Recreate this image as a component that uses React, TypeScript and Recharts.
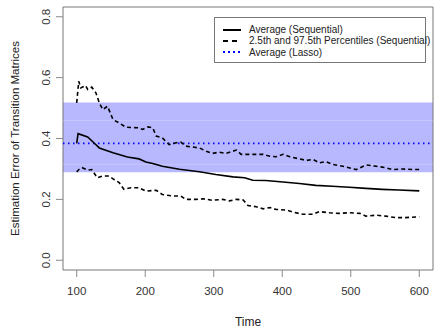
import { LineChart, Line, XAxis, YAxis, ReferenceArea, ReferenceLine } from "recharts";

// Average estimation error of the sequential method
const avgTime = [100, 102, 116, 125, 133, 153, 174, 191, 201, 211, 225, 250, 279, 303, 328, 345, 357, 376, 401, 425, 449, 473, 498, 522, 546, 570, 600];
const avgError = [0.384, 0.416, 0.405, 0.386, 0.369, 0.353, 0.339, 0.333, 0.323, 0.318, 0.309, 0.299, 0.291, 0.282, 0.274, 0.271, 0.263, 0.262, 0.257, 0.252, 0.246, 0.243, 0.24, 0.236, 0.233, 0.231, 0.228];

// 97.5th percentile
const upperTime = [100, 103, 106, 113, 116, 122, 128, 133, 138, 145, 153, 162, 172, 191, 196, 204, 211, 216, 225, 235, 245, 252, 259, 279, 289, 298, 308, 318, 333, 340, 357, 372, 382, 391, 401, 411, 425, 435, 445, 454, 464, 473, 488, 508, 522, 537, 551, 561, 575, 590, 600];
const upperError = [0.517, 0.588, 0.566, 0.574, 0.561, 0.569, 0.55, 0.517, 0.495, 0.506, 0.462, 0.451, 0.437, 0.435, 0.43, 0.438, 0.435, 0.408, 0.402, 0.38, 0.386, 0.388, 0.375, 0.369, 0.358, 0.351, 0.355, 0.351, 0.362, 0.348, 0.348, 0.348, 0.342, 0.34, 0.348, 0.34, 0.333, 0.328, 0.331, 0.32, 0.324, 0.315, 0.309, 0.298, 0.313, 0.309, 0.304, 0.298, 0.3, 0.298, 0.298];

// 2.5th percentile
const lowerTime = [100, 103, 108, 116, 122, 130, 138, 147, 154, 162, 169, 179, 191, 201, 216, 225, 240, 252, 259, 274, 284, 298, 313, 323, 333, 343, 350, 362, 372, 382, 391, 406, 416, 430, 445, 454, 469, 483, 498, 513, 522, 537, 551, 566, 580, 600];
const lowerError = [0.29, 0.298, 0.304, 0.296, 0.298, 0.271, 0.277, 0.277, 0.266, 0.255, 0.233, 0.238, 0.238, 0.227, 0.23, 0.216, 0.211, 0.211, 0.2, 0.2, 0.202, 0.197, 0.2, 0.195, 0.2, 0.198, 0.18, 0.176, 0.169, 0.173, 0.167, 0.165, 0.158, 0.151, 0.151, 0.16, 0.156, 0.154, 0.156, 0.154, 0.145, 0.148, 0.145, 0.14, 0.14, 0.143];

// Lasso: average and its spread
const lassoAvg = 0.384;
const lassoLow = 0.289;
const lassoHigh = 0.518;
const lassoInner = [0.315, 0.459];

const xTicks = [100, 200, 300, 400, 500, 600];
const yTicks = [0, 0.2, 0.4, 0.6, 0.8];
const xDomain = [80, 620];
const yDomain = [-0.032, 0.832];

const legendItems = [
  { label: "Average (Sequential)", color: "#000", dash: undefined, width: 2 },
  { label: "2.5th and 97.5th Percentiles (Sequential)", color: "#000", dash: "5 4", width: 2 },
  { label: "Average (Lasso)", color: "#0000ff", dash: "2 3", width: 2 },
];

const toPoints = (t: number[], v: number[]) => t.map((x, i) => ({ t: x, v: v[i] }));

const avgData = toPoints(avgTime, avgError);
const upperData = toPoints(upperTime, upperError);
const lowerData = toPoints(lowerTime, lowerError);

const font = "Liberation Sans, Arial, sans-serif";

function YTick({ x, y, payload }: any) {
  const cx = x - 8;
  return (
    <text x={cx} y={y} transform={`rotate(-90 ${cx} ${y})`} textAnchor="middle" dominantBaseline="central" fontSize={11.5} fill="#333" fontFamily={font}>
      {payload.value.toFixed(1)}
    </text>
  );
}

function XTick({ x, y, payload }: any) {
  return (
    <text x={x} y={y + 16} textAnchor="middle" fontSize={11.5} fill="#333" fontFamily={font}>
      {payload.value}
    </text>
  );
}

function LegendBox() {
  return (
    <div style={{ position: "absolute", left: 214, top: 17, border: "1px solid #777", background: "#fff", padding: "6px 6px 4px 8px", fontFamily: font, fontSize: 10, color: "#222", width: 196 }}>
      {legendItems.map((it) => (
        <div key={it.label} style={{ display: "flex", alignItems: "center", height: 11.3 }}>
          <svg width={26} height={8} style={{ flex: "none" }}>
            <line x1={0} x2={18} y1={4} y2={4} stroke={it.color} strokeWidth={it.width} strokeDasharray={it.dash} />
          </svg>
          <span style={{ whiteSpace: "nowrap" }}>{it.label}</span>
        </div>
      ))}
    </div>
  );
}

export default function App() {
  return (
    <div style={{ position: "absolute", left: 0, top: 0, width: 434, height: 332, background: "#fff" }}>
      <LineChart width={434} height={332} margin={{ top: 7, right: 1, left: 0, bottom: 0 }}>
        <XAxis
          type="number"
          dataKey="t"
          domain={xDomain}
          ticks={xTicks}
          allowDuplicatedCategory={false}
          axisLine={false}
          tickLine={{ stroke: "#888" }}
          tickSize={7}
          tick={<XTick />}
          height={62}
          label={{ value: "Time", position: "insideBottom", offset: 6, fontSize: 12, fill: "#222", fontFamily: font }}
        />
        <YAxis
          type="number"
          dataKey="v"
          domain={yDomain}
          ticks={yTicks}
          axisLine={false}
          tickLine={{ stroke: "#888" }}
          tickSize={7}
          tick={<YTick />}
          width={63}
          label={{ value: "Estimation Error of Transition Matrices", angle: -90, position: "insideLeft", offset: 15, style: { textAnchor: "middle" }, fontSize: 11.5, fill: "#222", fontFamily: font }}
        />
        <ReferenceArea y1={lassoLow} y2={lassoHigh} fill="#0000ff" fillOpacity={0.28} stroke="none" ifOverflow="visible" />
        {lassoInner.map((v) => (
          <ReferenceLine key={v} y={v} stroke="#ffffff" strokeOpacity={0.2} strokeWidth={1} />
        ))}
        <ReferenceLine y={lassoAvg} stroke="#0000ff" strokeWidth={1.8} strokeDasharray="1.5 3.5" />
        <Line data={upperData} dataKey="v" type="linear" stroke="#000" strokeWidth={1.6} strokeDasharray="4 3" dot={false} isAnimationActive={false} />
        <Line data={lowerData} dataKey="v" type="linear" stroke="#000" strokeWidth={1.6} strokeDasharray="4 3" dot={false} isAnimationActive={false} />
        <Line data={avgData} dataKey="v" type="linear" stroke="#000" strokeWidth={1.6} dot={false} isAnimationActive={false} />
        <ReferenceArea x1={xDomain[0]} x2={xDomain[1]} y1={yDomain[0]} y2={yDomain[1]} fill="none" stroke="#777" strokeWidth={1} ifOverflow="visible" />
      </LineChart>
      <LegendBox />
    </div>
  );
}
